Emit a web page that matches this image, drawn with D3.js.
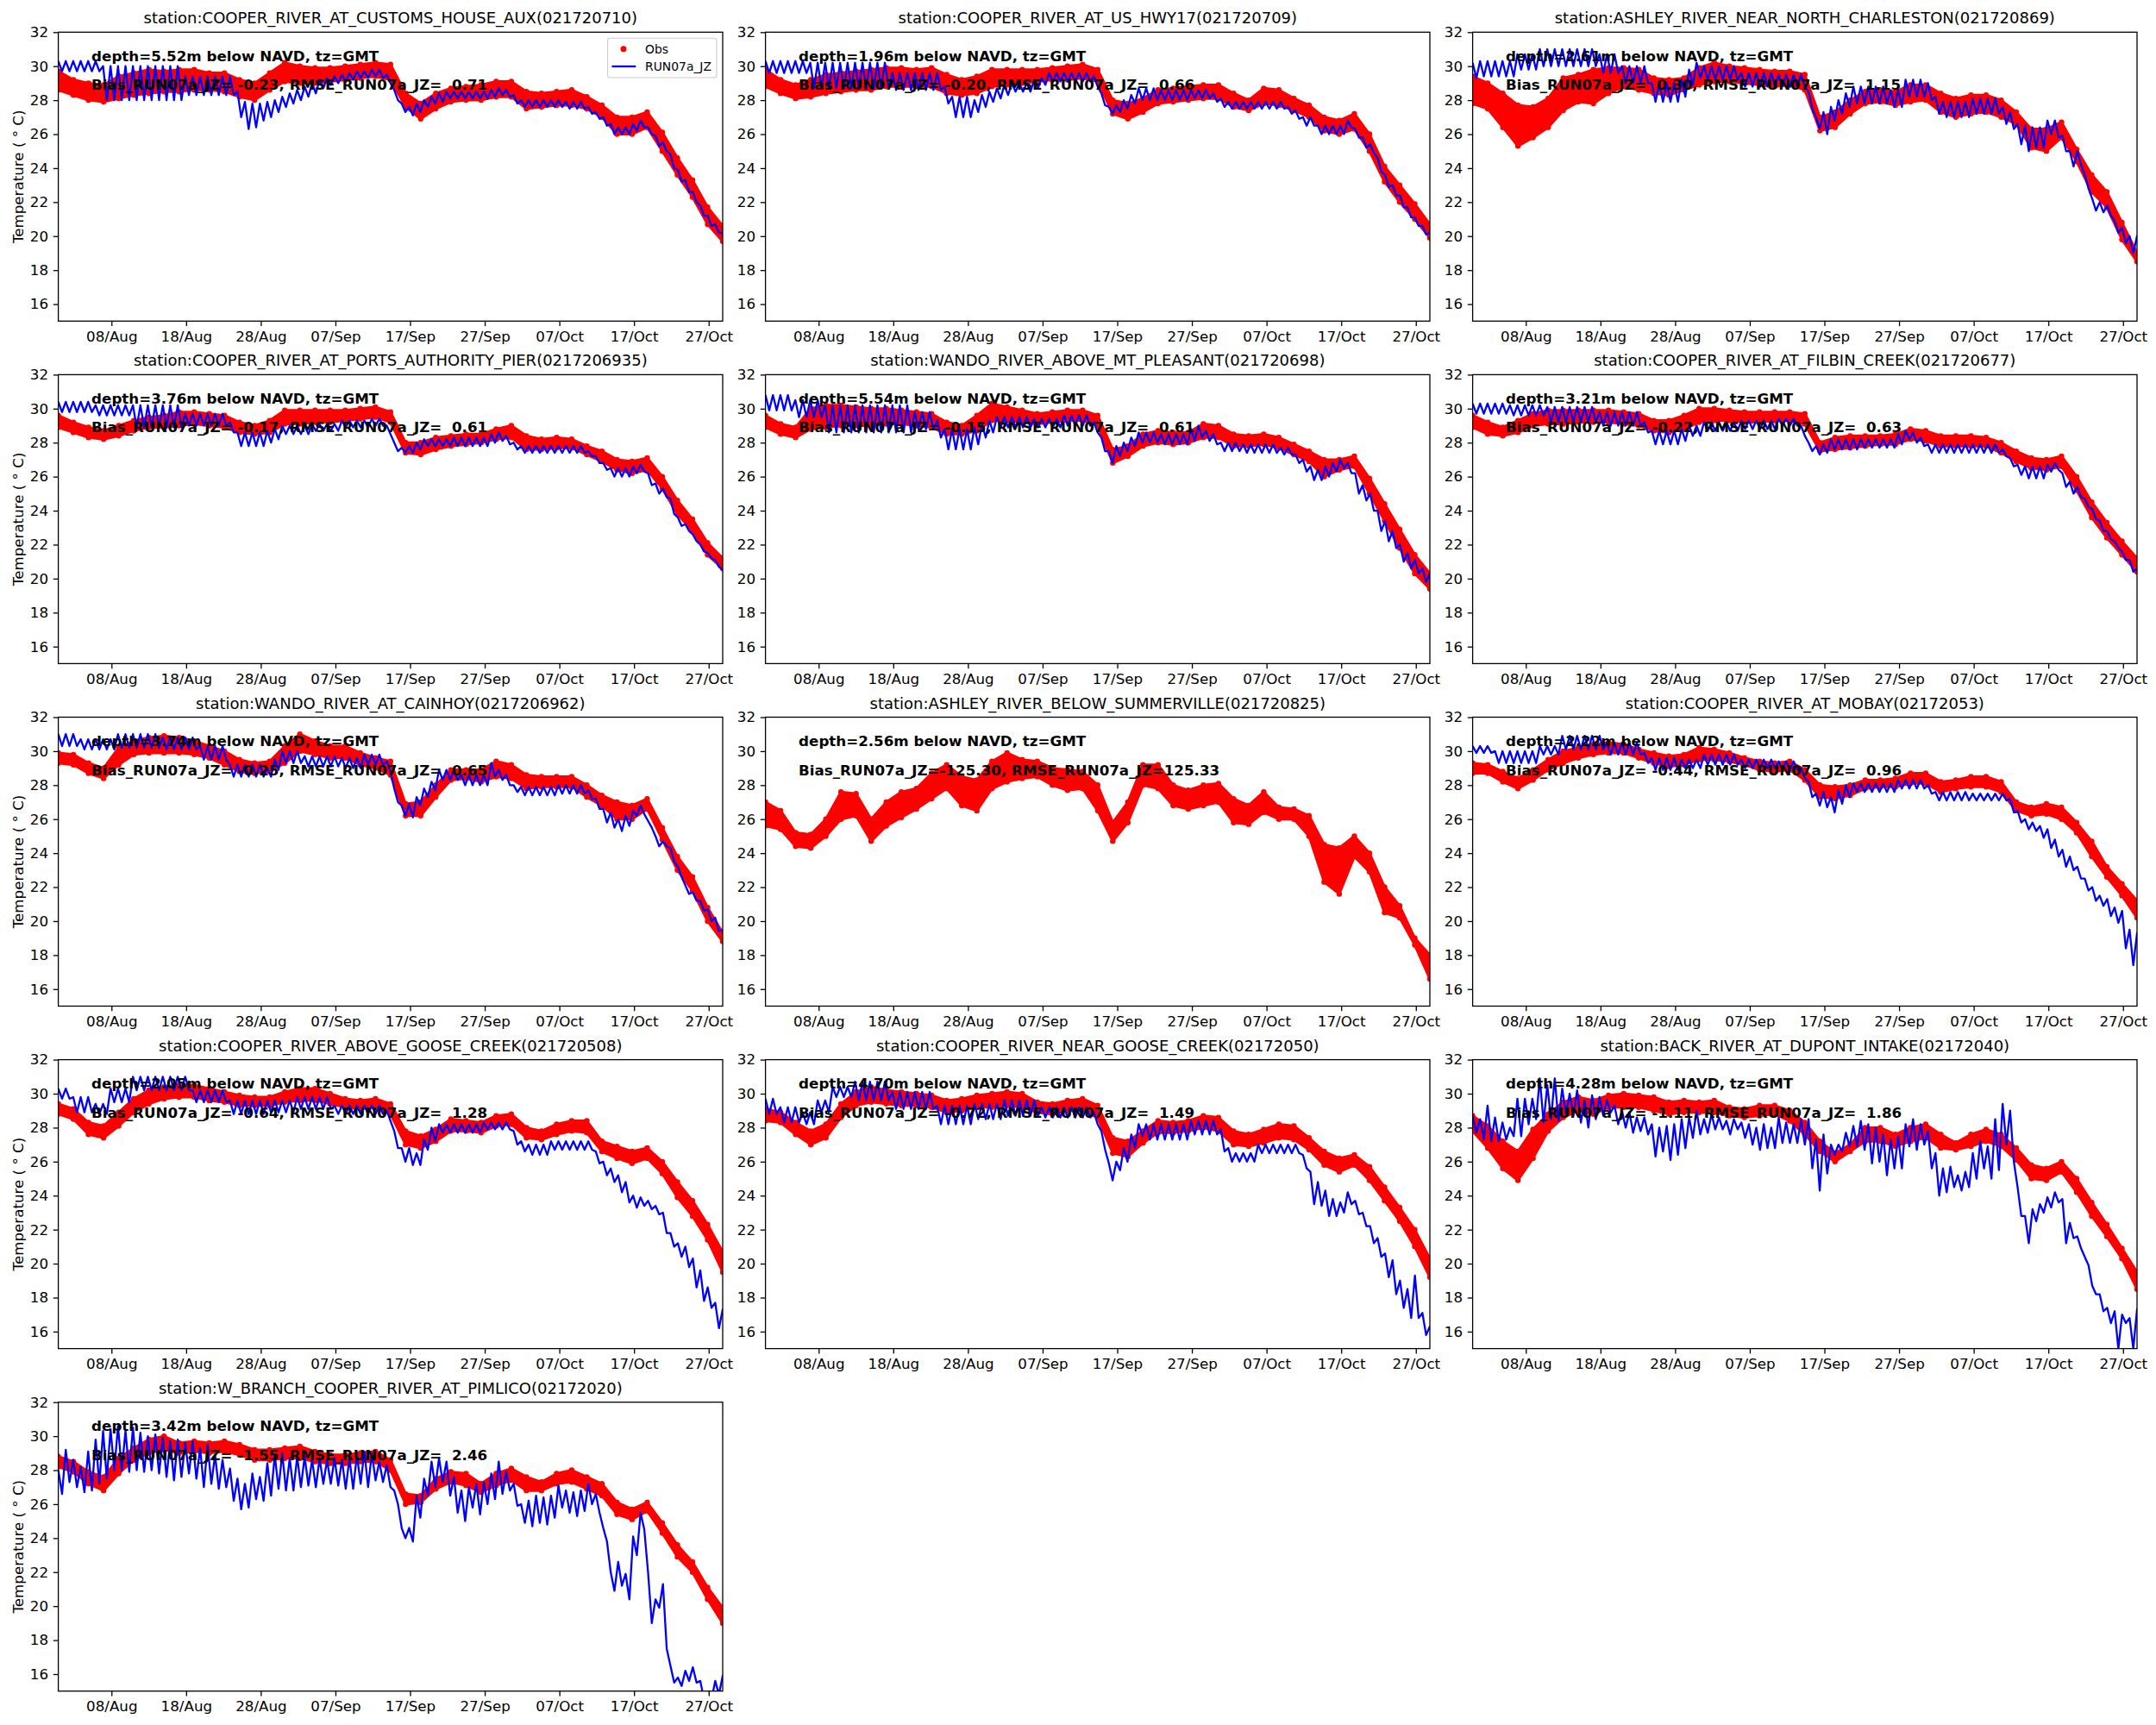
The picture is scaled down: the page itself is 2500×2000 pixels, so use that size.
<!DOCTYPE html>
<html>
<head>
<meta charset="utf-8">
<script src="https://cdn.jsdelivr.net/npm/d3@7"></script>
<style>
  body { margin: 0; background: #fff; }
  text { font-family: "DejaVu Sans", sans-serif; }
</style>
</head>
<body>
<div id="chart"></div>
<script>
// station metadata
var stationNames = [
  "COOPER_RIVER_AT_CUSTOMS_HOUSE_AUX", "COOPER_RIVER_AT_US_HWY17", "ASHLEY_RIVER_NEAR_NORTH_CHARLESTON",
  "COOPER_RIVER_AT_PORTS_AUTHORITY_PIER", "WANDO_RIVER_ABOVE_MT_PLEASANT", "COOPER_RIVER_AT_FILBIN_CREEK",
  "WANDO_RIVER_AT_CAINHOY", "ASHLEY_RIVER_BELOW_SUMMERVILLE", "COOPER_RIVER_AT_MOBAY",
  "COOPER_RIVER_ABOVE_GOOSE_CREEK", "COOPER_RIVER_NEAR_GOOSE_CREEK", "BACK_RIVER_AT_DUPONT_INTAKE",
  "W_BRANCH_COOPER_RIVER_AT_PIMLICO"
];
var stationIds = ["021720710", "021720709", "021720869", "0217206935", "021720698", "021720677",
  "0217206962", "021720825", "02172053", "021720508", "02172050", "02172040", "02172020"];
var depths = [5.52, 1.96, 2.61, 3.76, 5.54, 3.21, 3.74, 2.56, 2.22, 2.05, 4.70, 4.28, 3.42];
var biases = [-0.23, -0.20, 0.30, -0.17, -0.15, -0.22, -0.25, -125.30, -0.44, -0.64, -0.72, -1.11, -1.55];
var rmses = [0.71, 0.66, 1.15, 0.61, 0.61, 0.63, 0.65, 125.33, 0.96, 1.28, 1.49, 1.86, 2.46];

var yTicks = [16, 18, 20, 22, 24, 26, 28, 30, 32];
var xTickDates = ["2021-08-08", "2021-08-18", "2021-08-28", "2021-09-07", "2021-09-17",
  "2021-09-27", "2021-10-07", "2021-10-17", "2021-10-27"];

// observed band (upper / lower edge), every ~2 days
var s1ObsHi = [29.7,29.2,29.0,28.9,29.4,29.6,29.8,29.7,29.8,29.8,29.6,29.6,29.2,29.0,29.6,30.2,30.0,29.9,29.9,30.0,30.1,30.2,30.1,28.4,27.8,28.4,28.7,28.8,28.9,29.1,29.1,28.5,28.4,28.5,28.6,28.2,27.7,27.0,27.0,27.3,26.1,24.6,23.3,21.7,20.6];
var s1ObsLo = [28.6,28.3,28.0,27.9,28.1,28.3,28.4,28.5,28.5,28.6,28.6,28.5,28.2,28.0,28.6,29.1,29.0,29.0,29.1,29.2,29.3,29.4,29.2,27.6,26.9,27.5,27.9,28.0,28.0,28.2,28.2,27.5,27.6,27.7,27.7,27.5,27.0,26.0,26.0,26.4,25.0,23.6,22.3,20.7,19.7];
var s2ObsHi = [29.8,29.2,28.9,29.2,29.5,29.6,29.7,29.8,29.9,29.9,29.8,29.9,29.5,29.2,29.4,29.8,29.8,29.8,29.8,29.9,30.0,30.1,29.8,28.0,27.8,28.1,28.6,28.7,28.8,28.9,28.9,28.4,28.0,28.7,28.6,28.1,27.7,27.0,26.8,27.2,26.0,24.1,23.0,21.9,20.7];
var s2ObsLo = [28.8,28.4,28.1,28.2,28.4,28.5,28.6,28.6,28.8,28.8,28.8,28.8,28.4,28.3,28.4,28.8,28.9,29.0,29.1,29.2,29.2,29.3,29.1,27.2,26.9,27.3,27.8,27.9,28.0,28.1,28.1,27.6,27.4,27.8,27.7,27.4,27.0,26.2,26.0,26.3,25.0,23.2,22.0,21.0,19.9];
var s3ObsHi = [29.4,29.0,28.4,27.7,27.6,28.1,29.3,29.5,29.8,29.9,29.9,29.8,29.3,29.2,29.3,29.9,30.2,30.0,29.9,29.8,29.7,29.7,29.5,27.0,27.3,28.0,28.5,28.6,28.5,28.9,28.9,28.4,28.1,28.3,28.3,28.0,27.3,26.3,26.3,26.7,25.1,23.6,22.6,20.8,19.0];
var s3ObsLo = [27.8,27.5,26.4,25.3,25.8,26.4,27.4,27.9,27.8,28.4,28.8,28.6,28.4,28.3,28.6,28.9,29.1,29.1,29.0,28.9,28.8,28.9,28.6,26.2,26.4,27.2,27.8,27.9,27.7,27.9,28.0,27.3,27.0,27.2,27.3,27.0,26.6,25.2,25.0,25.8,24.4,22.6,21.7,19.8,18.5];
var s4ObsHi = [29.6,29.2,28.9,28.7,29.0,29.3,29.5,29.6,29.8,29.8,29.7,29.6,29.2,29.0,29.3,29.9,29.9,29.9,29.9,29.9,30.0,30.1,29.8,28.0,28.0,28.3,28.4,28.5,28.5,28.8,29.0,28.4,28.2,28.3,28.2,27.8,27.5,27.0,26.9,27.1,26.0,24.6,23.5,22.1,21.2];
var s4ObsLo = [28.9,28.6,28.3,28.2,28.4,28.7,28.9,28.9,29.0,29.1,29.0,28.9,28.6,28.5,28.6,29.1,29.1,29.2,29.2,29.3,29.4,29.5,29.2,27.4,27.3,27.6,27.8,27.9,28.0,28.2,28.3,27.6,27.6,27.7,27.7,27.3,26.9,26.4,26.2,26.4,25.3,23.8,22.8,21.4,20.6];
var s5ObsHi = [29.6,29.1,28.9,30.0,30.2,30.2,30.1,30.0,30.0,29.9,29.8,29.7,29.2,29.0,29.6,30.3,30.1,29.9,29.7,29.8,29.9,29.9,29.6,27.6,27.8,28.5,28.7,28.6,28.6,29.1,29.0,28.5,28.4,28.5,28.3,27.9,27.5,27.0,27.0,27.2,25.9,24.4,22.9,21.4,20.3];
var s5ObsLo = [28.9,28.5,28.3,28.8,28.9,29.0,29.0,29.0,29.1,29.1,29.0,28.9,28.5,28.5,28.7,29.3,29.3,29.2,29.1,29.2,29.3,29.3,29.0,26.8,27.2,27.8,28.0,27.9,28.0,28.3,28.3,27.8,27.8,27.9,27.7,27.3,26.9,26.0,26.4,26.6,25.0,23.4,21.8,20.3,19.4];
var s6ObsHi = [29.6,29.2,28.9,29.3,29.7,29.9,29.9,29.9,29.9,29.9,29.8,29.7,29.3,29.3,29.6,30.0,30.0,29.9,29.8,29.8,29.8,29.8,29.7,28.0,28.3,28.4,28.4,28.4,28.5,28.8,28.7,28.4,28.4,28.4,28.3,28.0,27.5,27.1,27.0,27.2,26.0,24.5,23.3,22.2,21.2];
var s6ObsLo = [28.9,28.5,28.4,28.6,29.0,29.1,29.1,29.2,29.2,29.2,29.1,29.0,28.7,28.6,28.8,29.2,29.3,29.3,29.2,29.2,29.3,29.3,29.1,27.5,27.6,27.7,27.8,27.9,27.9,28.2,28.1,27.8,27.8,27.8,27.8,27.4,26.9,26.5,26.4,26.6,25.2,23.6,22.4,21.4,20.4];
var s7ObsHi = [29.9,29.8,29.3,29.0,30.2,30.6,30.8,30.9,30.8,30.6,30.3,30.0,29.5,29.3,29.4,30.3,31.0,30.6,30.3,30.3,29.9,29.6,29.4,26.9,27.0,28.0,28.9,28.9,28.9,29.4,29.2,28.6,28.5,28.5,28.5,28.0,27.4,27.0,26.8,27.2,25.5,23.8,22.6,20.8,19.3];
var s7ObsLo = [29.3,29.2,28.7,28.4,29.2,29.8,29.9,29.9,29.9,29.8,29.6,29.2,28.8,28.7,28.8,29.3,30.0,29.8,29.6,29.6,29.2,29.0,28.6,26.2,26.2,27.3,28.3,28.4,28.2,28.5,28.4,27.8,27.9,27.9,27.9,27.3,26.8,26.0,26.0,26.6,24.8,23.0,21.8,20.0,18.8];
var s8ObsHi = [27.0,26.5,25.2,25.1,26.0,27.6,27.5,26.0,27.0,27.6,27.8,28.7,29.2,28.5,28.3,29.4,29.9,29.5,29.4,29.0,28.9,28.8,28.0,25.8,27.0,29.2,29.2,28.0,27.7,28.0,28.1,27.2,26.8,27.6,26.7,26.6,26.2,24.5,24.3,25.0,24.0,22.0,20.9,19.0,18.0];
var s8ObsLo = [25.6,25.4,24.4,24.3,25.0,26.0,26.2,24.7,25.6,26.1,26.6,27.2,27.8,26.8,26.5,27.8,28.2,28.4,28.5,28.0,27.7,27.8,26.5,24.7,25.8,28.0,27.8,26.8,26.6,26.8,27.0,25.8,25.7,26.4,26.0,26.0,25.0,22.3,21.6,23.8,22.9,20.5,20.2,18.6,16.6];
var s9ObsHi = [29.3,29.2,28.8,28.4,28.9,29.5,30.0,30.2,30.4,30.5,30.4,30.1,29.9,29.7,29.8,30.2,30.1,29.9,29.6,29.4,29.3,29.4,28.9,28.0,27.9,28.0,28.3,28.3,28.4,28.7,28.7,28.2,28.3,28.5,28.5,28.2,27.0,26.7,26.9,26.7,25.8,24.7,23.2,22.2,21.2];
var s9ObsLo = [28.7,28.7,28.2,27.8,28.3,28.9,29.3,29.6,29.8,29.9,29.9,29.6,29.3,29.1,29.2,29.5,29.5,29.4,29.2,28.9,28.8,28.9,28.3,27.3,27.2,27.4,27.8,27.9,27.9,28.1,28.1,27.6,27.8,27.9,27.9,27.6,26.5,26.2,26.3,26.0,25.2,23.8,22.6,21.5,20.2];
var s10ObsHi = [29.4,29.1,28.3,28.1,28.9,29.7,30.2,30.4,30.5,30.5,30.3,30.1,29.9,29.8,29.8,30.1,30.3,30.3,30.0,29.7,29.6,29.7,29.4,27.8,27.5,27.9,28.5,28.4,28.3,28.7,28.8,28.0,27.8,28.2,28.4,28.4,27.2,26.9,26.6,26.8,26.0,24.8,23.7,22.3,20.7];
var s10ObsLo = [28.8,28.5,27.6,27.4,28.1,28.9,29.4,29.7,29.8,29.8,29.6,29.5,29.3,29.3,29.3,29.5,29.6,29.6,29.4,29.2,29.1,29.2,28.8,27.0,26.8,27.2,27.8,27.8,27.7,28.1,28.2,27.4,27.3,27.6,27.8,27.7,26.6,26.2,25.9,26.2,25.3,23.9,22.8,21.4,19.5];
var s11ObsHi = [29.1,28.9,28.3,27.8,28.2,29.4,30.1,30.4,30.2,30.1,30.0,29.9,29.6,29.7,29.9,30.0,30.1,30.0,29.5,29.4,29.6,29.7,29.3,27.4,27.2,27.8,28.4,28.3,28.4,28.7,28.6,27.8,27.6,27.9,28.2,28.1,27.4,26.6,26.2,26.4,25.7,24.5,23.3,22.0,20.3];
var s11ObsLo = [28.4,28.3,27.6,27.0,27.4,28.6,29.3,29.5,29.4,29.3,29.3,29.2,28.9,29.0,29.2,29.2,29.3,29.2,28.9,28.8,29.0,29.0,28.6,26.5,26.3,27.1,27.7,27.7,27.8,28.0,27.8,27.0,26.9,27.1,27.4,27.3,26.7,25.8,25.4,25.8,24.9,23.7,22.5,21.0,19.2];
var s12ObsHi = [28.7,28.1,27.2,26.6,27.9,28.8,29.5,29.8,29.6,29.9,30.0,29.9,29.8,29.5,29.6,29.5,29.6,29.2,29.1,29.3,29.3,29.0,28.3,27.2,26.5,27.0,28.0,28.0,27.6,28.0,28.2,27.6,27.1,27.6,27.9,27.6,26.8,25.8,25.6,26.0,25.0,23.6,22.3,20.9,19.5];
var s12ObsLo = [27.8,26.8,25.6,24.9,26.2,27.8,28.6,29.0,28.8,29.2,29.2,29.2,29.0,28.8,28.9,28.9,28.9,28.7,28.6,28.7,28.8,28.4,27.6,26.6,26.0,26.6,27.2,27.2,26.9,27.2,27.4,26.8,26.7,26.9,27.2,26.9,26.1,25.0,24.9,25.4,24.2,22.8,21.6,20.3,18.5];
var s13ObsHi = [28.8,28.5,27.9,27.6,28.7,29.3,29.8,30.0,29.6,29.7,29.6,29.7,29.5,29.2,29.2,29.3,29.4,29.1,28.9,28.9,29.0,29.1,28.6,26.6,26.5,27.5,27.9,27.8,27.2,27.8,28.1,27.6,27.3,27.8,28.0,27.6,27.2,26.1,25.7,26.1,24.9,23.6,22.6,21.1,19.9];
var s13ObsLo = [28.2,27.9,27.2,26.8,27.8,28.6,29.0,29.2,29.0,29.1,29.0,29.1,28.9,28.6,28.6,28.7,28.7,28.5,28.4,28.4,28.5,28.5,28.0,26.0,26.1,26.9,27.3,27.1,26.7,27.1,27.4,26.8,26.8,27.2,27.3,26.9,26.5,25.4,25.1,25.6,24.3,22.9,22.0,20.4,19.0];

// model daily crest / trough values
var s1ModHi = [30.3,30.3,30.3,30.3,30.3,30.3,30.0,30.0,30.0,30.0,30.0,30.0,30.0,30.0,30.0,30.0,30.0,29.4,29.4,29.4,29.4,29.4,29.4,29.4,28.5,27.9,27.8,27.8,27.9,28.0,28.2,28.4,28.6,28.8,29.0,29.2,29.3,29.4,29.5,29.6,29.7,29.7,29.8,29.8,29.5,28.6,27.8,27.6,27.8,28.0,28.2,28.4,28.5,28.5,28.5,28.5,28.5,28.5,28.6,28.7,28.6,28.3,28.0,28.0,28.0,28.0,28.0,28.0,27.9,27.9,27.9,27.6,27.3,27.0,26.6,26.4,26.4,26.6,26.8,26.4,25.9,25.5,24.8,23.9,23.3,22.6,21.8,21.2,20.7,20.2];
var s1ModLo = [29.7,29.7,29.7,29.7,29.7,29.7,28.0,28.0,28.0,28.0,28.0,28.0,28.0,28.0,28.0,28.0,28.0,28.3,28.3,28.3,28.3,28.3,28.3,28.3,27.0,26.3,26.4,26.8,27.0,27.3,27.6,27.8,28.0,28.2,28.4,28.7,28.9,29.0,29.1,29.2,29.3,29.3,29.4,29.3,29.0,28.0,27.3,27.1,27.3,27.6,27.8,27.9,28.1,28.1,28.1,28.1,28.1,28.1,28.2,28.3,28.2,27.8,27.6,27.6,27.6,27.6,27.6,27.6,27.5,27.5,27.5,27.2,26.9,26.5,26.0,26.0,26.0,26.2,26.4,26.0,25.3,25.0,24.0,23.2,22.6,22.0,21.2,20.6,20.2,19.7];
var s2ModHi = [30.3,30.3,30.3,30.3,30.3,30.3,30.2,30.2,30.2,30.2,30.2,30.2,30.2,30.2,30.2,30.2,30.2,29.6,29.6,29.6,29.6,29.6,29.6,29.6,28.8,28.2,28.2,28.2,28.0,28.3,28.5,28.7,28.9,29.0,29.0,29.0,29.2,29.3,29.6,29.6,29.6,29.6,29.6,29.6,29.4,28.4,27.6,27.7,28.0,28.3,28.7,28.7,28.7,28.6,28.6,28.6,28.6,28.6,28.6,28.6,28.4,28.1,27.9,27.9,27.9,27.9,27.9,27.9,27.9,27.9,27.6,27.4,27.0,27.0,26.5,26.5,26.5,26.5,26.8,26.3,25.8,25.4,24.6,23.6,23.0,22.4,21.7,21.1,20.6,20.2];
var s2ModLo = [29.6,29.6,29.6,29.6,29.6,29.6,28.7,28.7,28.7,28.7,28.7,28.7,28.7,28.7,28.7,28.7,28.7,28.6,28.6,28.6,28.6,28.6,28.6,28.6,27.8,27.0,27.0,27.0,27.3,27.6,27.9,28.1,28.3,28.5,28.5,28.5,28.7,28.9,29.1,29.1,29.1,29.1,29.1,29.1,28.8,27.7,27.2,27.3,27.5,27.8,28.0,28.0,28.0,28.0,28.0,28.0,28.0,28.1,28.1,28.1,27.9,27.6,27.5,27.5,27.5,27.5,27.5,27.5,27.5,27.5,27.2,26.9,26.5,26.5,26.0,26.0,26.0,26.0,26.4,25.8,25.2,24.9,23.8,22.9,22.4,21.7,21.1,20.6,20.1,19.8];
var s3ModHi = [30.2,30.3,30.3,30.3,30.3,30.3,30.7,30.7,30.7,31.0,31.0,31.0,31.0,31.0,31.0,31.0,31.0,30.7,30.7,30.7,30.0,30.0,30.0,30.0,29.0,29.0,29.0,29.0,29.2,29.8,30.2,30.0,30.0,30.0,30.0,30.0,29.6,29.6,29.6,29.6,29.6,29.5,29.5,29.5,29.5,28.5,27.0,27.3,27.6,28.0,28.4,28.8,28.8,28.8,28.8,28.8,28.6,28.6,29.2,29.2,29.2,29.0,28.2,27.9,27.9,27.9,27.9,28.1,28.1,28.1,28.1,27.6,27.3,26.6,26.5,26.4,26.4,26.8,26.8,25.9,25.0,25.0,23.6,22.2,22.0,21.8,20.9,20.5,20.0,20.0];
var s3ModLo = [29.3,29.4,29.4,29.4,29.4,29.4,29.8,29.8,29.8,30.0,30.0,30.0,30.0,30.0,30.0,30.0,30.0,29.6,29.6,29.6,29.0,29.0,29.0,29.0,27.9,27.9,27.9,27.9,28.2,28.9,29.3,29.2,29.2,29.2,29.2,29.2,28.8,28.8,28.8,28.8,28.8,28.8,28.8,28.8,28.8,27.5,26.3,26.0,26.8,27.2,27.6,27.8,27.8,27.8,27.8,27.8,27.6,27.6,28.2,28.2,28.2,28.0,27.2,27.0,27.0,27.0,27.0,27.2,27.2,27.2,27.2,26.6,26.3,25.4,25.0,25.2,25.2,26.0,25.8,25.0,24.1,24.2,22.8,21.5,21.4,21.2,20.2,19.6,19.0,19.4];
var s4ModHi = [30.4,30.4,30.4,30.4,30.4,30.2,30.2,30.2,30.2,30.2,30.2,30.2,30.2,30.2,30.2,30.2,30.2,29.7,29.7,29.7,29.7,29.7,29.7,29.2,28.6,28.6,28.6,28.6,28.7,28.8,29.0,29.0,29.0,29.0,29.1,29.1,29.1,29.1,29.3,29.3,29.3,29.3,29.4,29.4,29.0,28.0,27.7,27.8,28.0,28.2,28.2,28.2,28.2,28.3,28.3,28.3,28.3,28.3,28.5,28.6,28.4,28.0,27.8,27.8,27.8,27.8,27.8,27.8,27.8,27.8,27.8,27.5,27.2,26.8,26.5,26.5,26.5,26.6,26.7,26.2,25.6,25.3,24.7,23.6,23.2,22.6,22.0,21.5,21.1,20.5];
var s4ModLo = [29.8,29.8,29.8,29.8,29.8,29.6,29.6,29.6,29.6,29.6,28.9,28.9,28.9,28.9,28.9,28.9,28.9,29.0,29.0,29.0,29.0,29.0,29.0,28.6,27.8,27.8,27.8,27.8,28.0,28.2,28.5,28.5,28.5,28.5,28.7,28.7,28.7,28.7,28.9,28.9,28.9,28.9,29.0,29.0,28.5,27.5,27.4,27.4,27.6,27.8,27.8,27.8,27.8,27.8,27.8,27.8,27.8,27.8,28.0,28.1,27.9,27.6,27.4,27.4,27.4,27.4,27.4,27.4,27.4,27.4,27.4,27.2,26.8,26.4,26.0,26.0,26.0,26.2,26.3,25.5,25.0,24.8,23.8,23.1,22.8,22.2,21.6,21.2,20.7,20.1];
var s5ModHi = [30.8,30.8,30.8,30.8,30.5,30.5,30.5,30.5,30.2,30.2,30.2,30.2,30.2,30.2,30.2,30.2,30.2,30.2,30.2,30.2,29.8,29.8,29.8,29.3,28.8,28.8,28.8,28.8,28.9,29.1,29.3,29.5,29.5,29.5,29.5,29.5,29.4,29.4,29.4,29.4,29.6,29.6,29.6,29.6,29.2,28.3,27.5,27.8,28.0,28.3,28.6,28.6,28.6,28.5,28.5,28.5,28.5,28.8,29.0,28.7,28.5,28.0,28.0,28.0,27.9,27.9,27.9,27.9,27.9,27.7,27.7,27.3,27.0,26.6,26.4,26.6,26.8,27.0,26.8,26.2,25.5,25.0,24.0,23.4,22.8,22.0,21.5,21.1,20.6,20.3];
var s5ModLo = [29.9,29.9,29.9,29.9,29.5,29.5,29.5,29.5,28.6,28.6,28.6,28.6,28.6,28.6,28.6,28.6,28.6,28.6,28.6,28.6,28.8,28.8,28.8,28.3,27.6,27.6,27.6,27.6,27.9,28.3,28.6,28.9,28.9,28.9,28.9,28.9,28.9,28.9,28.9,28.9,29.0,29.0,29.0,29.0,28.6,27.5,26.8,27.2,27.5,27.8,28.0,28.0,28.0,27.9,27.9,27.9,27.9,28.1,28.3,28.1,27.9,27.5,27.5,27.5,27.4,27.4,27.4,27.4,27.4,27.3,27.3,26.8,26.3,25.8,25.8,26.0,26.3,26.5,26.2,25.0,24.6,24.0,22.8,22.2,21.8,21.0,20.6,20.3,19.8,19.6];
var s6ModHi = [30.3,30.3,30.3,30.3,30.3,30.2,30.2,30.2,30.2,30.2,30.1,30.1,30.1,30.1,30.1,30.1,30.1,29.8,29.8,29.8,29.8,29.8,29.8,29.2,28.7,28.7,28.7,28.7,28.8,29.0,29.0,29.2,29.2,29.2,29.2,29.2,29.3,29.3,29.3,29.3,29.3,29.4,29.4,29.4,29.0,28.0,27.8,27.9,28.2,28.2,28.2,28.2,28.2,28.2,28.2,28.2,28.2,28.5,28.7,28.6,28.3,27.9,27.9,27.9,27.9,27.9,27.9,27.9,27.9,27.9,27.9,27.6,27.1,26.7,26.6,26.6,26.6,26.7,26.8,26.2,25.7,25.4,24.7,24.1,23.4,22.8,22.2,21.6,21.1,20.6];
var s6ModLo = [29.7,29.7,29.7,29.7,29.7,29.6,29.6,29.6,29.6,29.6,29.2,29.2,29.2,29.2,29.2,29.2,29.2,29.0,29.0,29.0,29.0,29.0,29.0,28.6,27.9,27.9,27.9,27.9,28.1,28.4,28.4,28.7,28.7,28.7,28.7,28.7,28.8,28.8,28.8,28.8,28.8,29.0,29.0,29.0,28.4,27.5,27.3,27.4,27.6,27.6,27.6,27.6,27.7,27.7,27.7,27.7,27.7,27.9,28.2,28.0,27.8,27.4,27.4,27.4,27.4,27.4,27.4,27.4,27.4,27.4,27.4,27.2,26.6,26.1,25.9,25.9,25.9,26.3,26.4,25.4,25.0,24.8,24.2,23.5,22.8,22.3,21.8,21.1,20.4,20.0];
var s7ModHi = [31.0,31.0,31.0,30.7,30.7,30.7,30.7,30.7,31.0,31.0,31.0,31.0,31.0,31.0,30.8,30.8,30.8,30.8,30.8,30.3,30.3,30.3,30.3,29.2,29.2,29.2,29.2,29.2,29.0,29.5,30.0,30.0,30.0,29.7,29.7,29.7,29.7,29.7,29.6,29.6,29.6,29.8,29.8,29.8,29.4,27.8,26.8,26.9,27.3,27.8,28.2,28.9,28.9,28.9,28.6,28.6,28.6,28.6,29.3,28.9,28.6,28.0,27.9,27.9,27.9,27.9,27.9,28.0,28.0,28.0,28.0,27.7,27.2,26.6,26.4,26.0,26.2,26.5,26.8,25.9,25.0,24.7,24.3,23.2,22.1,21.7,21.2,20.7,20.2,19.5];
var s7ModLo = [30.3,30.3,30.3,30.1,30.1,30.1,30.1,30.1,30.2,30.2,30.2,30.2,30.2,30.2,30.1,30.1,30.1,30.1,30.1,29.5,29.5,29.5,29.5,28.5,28.5,28.5,28.5,28.5,28.5,28.9,29.3,29.3,29.3,29.1,29.1,29.1,29.1,29.1,29.0,29.0,29.0,29.2,29.2,29.2,28.8,27.0,26.2,26.1,26.8,27.3,27.7,28.3,28.3,28.3,28.0,28.0,28.0,28.0,28.5,28.3,28.0,27.6,27.4,27.4,27.4,27.4,27.4,27.5,27.5,27.5,27.5,27.2,26.6,25.8,25.5,25.3,25.6,26.2,26.3,25.5,24.4,24.4,23.5,22.6,21.6,21.2,20.6,20.0,19.4,19.0];
var s9ModHi = [30.3,30.3,30.3,30.0,30.0,30.0,30.0,30.0,30.0,30.3,30.3,30.3,30.9,30.9,30.9,30.9,30.9,30.9,30.5,30.5,30.5,30.5,30.5,29.9,29.6,29.6,29.6,29.6,29.5,29.5,29.5,29.8,29.8,29.8,29.8,29.8,29.5,29.5,29.5,29.5,29.5,29.4,29.4,29.4,29.0,28.2,27.5,27.6,27.3,27.7,28.0,28.1,28.1,28.1,28.1,28.1,28.1,28.3,28.3,28.3,28.3,28.0,27.6,27.6,27.6,27.6,27.6,27.5,27.5,27.5,27.5,27.5,27.2,26.5,26.0,25.8,25.6,25.4,24.8,24.2,23.8,23.2,22.5,22.0,21.5,21.3,20.8,20.6,19.5,19.3];
var s9ModLo = [29.9,29.9,29.9,29.3,29.3,29.3,29.3,29.3,29.3,29.8,29.8,29.8,30.1,30.1,30.1,30.1,30.1,30.1,29.8,29.8,29.8,29.8,29.8,29.3,28.9,28.9,28.9,28.9,29.0,29.0,29.0,29.2,29.2,29.2,29.2,29.2,29.0,29.0,29.0,29.0,29.0,28.9,28.9,28.9,28.4,27.3,26.8,26.7,26.4,26.9,27.3,27.6,27.6,27.6,27.6,27.6,27.6,27.8,27.8,27.8,27.8,27.5,27.1,27.1,27.1,27.1,27.1,27.1,27.1,27.1,27.1,27.1,26.4,25.8,25.4,25.3,24.9,24.3,23.8,23.2,23.0,22.5,21.8,21.2,20.9,20.3,19.9,18.4,17.4,18.0];
var s10ModHi = [30.3,30.3,29.8,29.8,29.8,29.4,29.4,30.3,30.3,30.3,31.0,31.0,31.0,31.0,31.0,31.0,31.0,31.0,30.2,30.2,30.2,30.2,30.2,29.6,29.6,29.6,29.6,29.6,29.6,29.6,29.6,29.6,29.8,29.8,29.8,29.8,29.8,29.3,29.3,29.3,29.3,29.3,29.3,29.3,29.0,27.8,26.8,26.8,26.5,27.3,28.0,28.2,28.2,28.2,28.2,28.2,28.2,28.3,28.3,28.3,28.3,27.8,27.2,27.0,27.0,27.0,27.2,27.2,27.2,27.2,27.2,27.2,26.6,26.0,25.6,25.2,24.8,24.0,23.9,23.7,23.4,23.0,21.8,21.2,21.0,20.3,19.6,18.6,17.7,17.3];
var s10ModLo = [29.7,29.7,28.9,28.9,28.9,28.8,28.8,29.5,29.5,29.5,30.2,30.2,30.2,30.2,30.2,30.2,30.2,30.2,29.5,29.5,29.5,29.5,29.5,28.8,28.8,28.8,28.8,28.8,28.9,28.9,28.9,28.9,29.1,29.1,29.1,29.1,29.1,28.8,28.8,28.8,28.8,28.8,28.8,28.8,28.4,26.8,26.0,25.8,25.8,26.7,27.2,27.7,27.7,27.7,27.7,27.7,27.7,27.9,27.9,27.9,27.9,27.0,26.6,26.4,26.4,26.4,26.7,26.7,26.7,26.7,26.7,26.7,25.9,25.2,24.8,24.2,23.6,23.3,23.4,23.2,22.9,21.8,21.0,20.4,19.8,18.6,17.8,17.4,16.2,16.0];
var s11ModHi = [29.7,29.7,29.2,29.2,29.2,28.9,28.9,29.6,29.6,30.4,30.4,30.4,30.7,30.7,30.7,30.7,30.7,30.1,30.1,30.1,30.1,30.1,30.1,29.3,29.3,29.3,29.3,29.3,29.4,29.4,29.4,29.4,29.6,29.6,29.6,29.6,29.6,29.2,29.2,29.2,29.2,29.2,29.2,29.2,28.9,27.8,25.9,26.0,26.8,27.6,28.2,28.2,28.2,28.2,28.2,28.2,28.2,28.4,28.4,28.4,28.4,27.9,26.8,26.5,26.5,26.5,27.0,27.0,27.0,27.0,27.0,27.0,26.4,25.4,24.8,24.3,23.8,23.6,24.2,23.7,23.0,22.2,21.5,20.6,20.2,19.0,18.5,19.3,17.1,16.3];
var s11ModLo = [28.8,28.8,28.3,28.3,28.3,28.2,28.2,28.9,28.9,29.8,29.8,29.8,29.6,29.6,29.6,29.6,29.6,29.1,29.1,29.1,29.1,29.1,29.1,28.2,28.2,28.2,28.2,28.2,28.5,28.5,28.5,28.5,28.7,28.7,28.7,28.7,28.7,28.6,28.6,28.6,28.6,28.6,28.6,28.6,28.2,26.7,24.9,25.5,26.0,26.8,27.5,27.3,27.3,27.3,27.3,27.3,27.3,27.6,27.6,27.6,27.6,26.6,26.0,26.0,26.0,26.0,26.5,26.5,26.5,26.5,26.5,26.5,25.6,23.5,23.4,22.8,22.8,23.0,23.5,22.9,22.2,21.2,20.4,19.2,18.2,17.4,16.8,16.8,15.8,15.5];
var s12ModHi = [28.7,28.5,29.3,28.6,28.3,28.0,29.7,29.7,29.7,30.9,30.5,30.9,30.3,30.0,30.2,29.6,29.9,29.8,29.6,29.3,29.0,28.9,28.6,28.6,28.2,28.0,28.1,28.2,28.5,28.6,29.0,28.5,28.8,28.6,28.4,28.5,28.3,28.2,28.0,28.2,28.0,28.6,28.3,28.2,28.5,28.5,27.3,27.6,27.0,27.0,27.7,28.1,28.4,28.2,28.0,27.6,27.3,27.5,28.2,28.5,28.2,27.8,26.5,25.6,25.7,25.2,25.4,26.5,27.2,26.9,28.5,29.4,29.0,24.5,22.8,23.2,23.5,23.9,24.2,23.8,22.4,21.6,20.4,18.7,18.2,17.4,17.2,17.0,16.8,17.3];
var s12ModLo = [27.7,27.3,27.2,27.2,27.3,27.5,27.5,28.2,28.5,28.3,28.5,28.4,28.8,28.7,28.3,28.0,28.5,28.7,28.9,28.2,28.0,27.7,27.8,27.6,26.3,26.6,26.1,26.4,26.8,27.4,27.6,27.7,27.9,27.9,27.6,27.9,27.4,27.0,26.7,26.8,26.8,27.1,27.1,27.1,27.0,25.6,24.3,25.3,26.4,26.6,26.9,26.9,26.7,25.9,26.0,25.2,25.6,25.6,26.9,26.7,27.0,25.6,24.0,24.2,24.5,24.3,24.5,25.0,25.6,25.0,25.5,27.0,26.0,22.8,21.2,22.5,23.0,23.3,23.6,21.2,21.5,20.9,19.9,18.2,17.2,16.5,15.0,16.5,15.0,15.5];
var s13ModHi = [28.0,29.2,28.6,28.2,29.1,29.8,30.3,30.4,30.6,30.3,30.5,30.2,30.0,30.1,29.9,29.7,29.8,29.6,29.7,29.3,29.5,28.9,28.6,28.1,27.5,27.2,27.8,27.6,28.4,28.9,29.0,28.7,28.8,28.8,28.6,28.7,28.6,28.7,28.6,28.7,28.9,29.1,29.0,28.5,28.3,26.8,24.6,24.6,26.5,27.5,28.5,28.7,28.5,27.6,26.8,27.0,27.2,27.3,27.8,28.5,27.9,27.2,26.0,26.2,26.5,26.4,26.5,27.1,26.8,26.7,26.8,27.2,26.6,24.6,22.0,22.6,21.9,24.1,25.5,22.0,20.4,21.3,16.5,15.8,16.2,16.4,15.6,14.8,15.6,15.9];
var s13ModLo = [26.6,27.3,27.0,26.7,26.8,27.2,27.5,28.0,28.0,27.9,28.0,27.9,28.0,27.8,27.6,27.4,27.6,27.8,27.5,27.0,27.2,26.9,27.0,26.2,25.7,25.8,26.3,26.2,26.5,26.9,26.8,26.8,27.0,27.1,27.0,27.2,27.2,27.1,26.9,26.9,27.2,27.0,27.4,27.3,27.0,26.0,24.0,23.8,25.2,26.5,27.0,27.3,26.5,25.5,25.0,25.8,25.4,26.0,26.3,26.6,26.8,25.9,24.9,24.7,24.9,24.8,25.2,25.8,25.5,25.3,25.6,26.0,25.5,23.8,20.9,21.2,20.4,23.0,24.5,19.0,19.9,17.5,15.5,15.3,15.6,15.5,14.5,14.5,14.8,14.8];

var obsHiList = [s1ObsHi, s2ObsHi, s3ObsHi, s4ObsHi, s5ObsHi, s6ObsHi, s7ObsHi, s8ObsHi, s9ObsHi, s10ObsHi, s11ObsHi, s12ObsHi, s13ObsHi];
var obsLoList = [s1ObsLo, s2ObsLo, s3ObsLo, s4ObsLo, s5ObsLo, s6ObsLo, s7ObsLo, s8ObsLo, s9ObsLo, s10ObsLo, s11ObsLo, s12ObsLo, s13ObsLo];
var modHiList = [s1ModHi, s2ModHi, s3ModHi, s4ModHi, s5ModHi, s6ModHi, s7ModHi, null, s9ModHi, s10ModHi, s11ModHi, s12ModHi, s13ModHi];
var modLoList = [s1ModLo, s2ModLo, s3ModLo, s4ModLo, s5ModLo, s6ModLo, s7ModLo, null, s9ModLo, s10ModLo, s11ModLo, s12ModLo, s13ModLo];

var margin = { top: 37.3, left: 67.6 },
  width = 770.4,
  height = 335,
  colStep = 820,
  rowStep = 397.1;

var start = new Date(Date.UTC(2021, 6, 31, 21));
var end = new Date(Date.UTC(2021, 9, 28, 21));
var parseDay = d3.utcParse("%Y-%m-%d");
var fmtDay = d3.utcFormat("%d/%b");

var x = d3.scaleUtc().domain([start, end]).range([0, width]);
var y = d3.scaleLinear().domain([15, 32]).range([height, 0]);

var svg = d3.select("#chart").append("svg").attr("width", 2500).attr("height", 2000);
svg.append("rect").attr("width", 2500).attr("height", 2000).attr("fill", "#fff");

function timeAt(i, n) {
  return new Date(start.getTime() + ((end - start) * i) / (n - 1));
}

function fmt6(v) {
  var s = v.toFixed(2);
  while (s.length < 6) s = " " + s;
  return s;
}

function drawPanel(i) {
  var col = i % 3, row = Math.floor(i / 3);
  var left = margin.left + col * colStep, top = margin.top + row * rowStep;
  var g = svg.append("g").attr("transform", "translate(" + left + "," + top + ")");

  g.append("clipPath").attr("id", "clip" + i)
    .append("rect").attr("width", width).attr("height", height);
  var plot = g.append("g").attr("clip-path", "url(#clip" + i + ")");

  // observations: red band
  var hi = obsHiList[i], lo = obsLoList[i];
  var obs = hi.map(function (v, k) {
    return { t: timeAt(k, hi.length), hi: v, lo: lo[k] };
  });
  var band = d3.area()
    .x(function (d) { return x(d.t); })
    .y0(function (d) { return y(d.lo); })
    .y1(function (d) { return y(d.hi); });
  plot.append("path").datum(obs)
    .attr("d", band)
    .style("fill", "#ff0000")
    .style("stroke", "#ff0000")
    .style("stroke-width", 3)
    .style("stroke-linejoin", "round");
  var dots = [];
  obs.forEach(function (d) { dots.push([d.t, d.hi]); dots.push([d.t, d.lo]); });
  plot.selectAll(".odot").data(dots).enter().append("circle")
    .attr("class", "odot")
    .attr("cx", function (d) { return x(d[0]); })
    .attr("cy", function (d) { return y(d[1]); })
    .attr("r", 3.2)
    .style("fill", "#ff0000");

  // model: alternating crest / trough
  if (modHiList[i]) {
    var mh = modHiList[i], ml = modLoList[i];
    var halfStep = (end - start) / (mh.length - 1) / 2;
    var pts = [];
    mh.forEach(function (v, k) {
      var t = timeAt(k, mh.length);
      pts.push([t, v]);
      pts.push([new Date(t.getTime() + halfStep), ml[k]]);
    });
    var line = d3.line()
      .x(function (d) { return x(d[0]); })
      .y(function (d) { return y(d[1]); });
    plot.append("path").datum(pts)
      .attr("d", line)
      .style("fill", "none")
      .style("stroke", "#0000ff")
      .style("stroke-width", 2.3)
      .style("stroke-linejoin", "round");
  }

  // axes
  var yAxis = g.append("g")
    .call(d3.axisLeft(y).tickValues(yTicks).tickSize(5.8).tickPadding(5.8));
  var xAxis = g.append("g")
    .attr("transform", "translate(0," + height + ")")
    .call(d3.axisBottom(x).tickValues(xTickDates.map(parseDay)).tickFormat(fmtDay).tickSize(5.8).tickPadding(5.8));
  [yAxis, xAxis].forEach(function (a) {
    a.select(".domain").remove();
    a.attr("font-family", "DejaVu Sans").attr("font-size", 16.7);
    a.selectAll("line").attr("stroke", "#000").attr("stroke-width", 1.3);
    a.selectAll("text").attr("fill", "#000");
  });

  g.append("rect")
    .attr("width", width).attr("height", height)
    .style("fill", "none").style("stroke", "#000").style("stroke-width", 1.3);

  // title and annotations
  g.append("text")
    .attr("x", width / 2).attr("y", -10)
    .attr("text-anchor", "middle")
    .style("font-size", "18px")
    .text("station:" + stationNames[i] + "(" + stationIds[i] + ")");
  g.append("text")
    .attr("x", width * 0.05).attr("y", height * 0.1)
    .style("font-size", "16.7px").style("font-weight", "bold")
    .attr("xml:space", "preserve").style("white-space", "pre")
    .text("depth=" + depths[i].toFixed(2) + "m below NAVD, tz=GMT");
  g.append("text")
    .attr("x", width * 0.05).attr("y", height * 0.2)
    .style("font-size", "16.7px").style("font-weight", "bold")
    .attr("xml:space", "preserve").style("white-space", "pre")
    .text("Bias_RUN07a_JZ=" + fmt6(biases[i]) + ", RMSE_RUN07a_JZ=" + fmt6(rmses[i]));

  if (col == 0) {
    svg.append("text")
      .attr("transform", "translate(21," + (top + height / 2) + ") rotate(-90)")
      .attr("text-anchor", "middle")
      .attr("dy", "0.35em")
      .style("font-size", "16.7px")
      .text("Temperature ( \u00b0 C)");
  }

  if (i == 0) {
    var lg = g.append("g").attr("transform", "translate(637,7)");
    lg.append("rect")
      .attr("width", 126.4).attr("height", 45.7).attr("rx", 3)
      .style("fill", "#fff").style("fill-opacity", 0.8)
      .style("stroke", "#cccccc").style("stroke-width", 1.1);
    lg.append("circle").attr("cx", 18.4).attr("cy", 12.4).attr("r", 3.5).style("fill", "#ff0000");
    lg.append("text").attr("x", 43.4).attr("y", 12.4).attr("dy", "0.35em")
      .style("font-size", "13.9px").text("Obs");
    lg.append("line").attr("x1", 4.9).attr("x2", 32.7).attr("y1", 32.7).attr("y2", 32.7)
      .style("stroke", "#0000ff").style("stroke-width", 2.3);
    lg.append("text").attr("x", 43.4).attr("y", 32.7).attr("dy", "0.35em")
      .style("font-size", "13.9px").text("RUN07a_JZ");
  }
}

for (var i = 0; i < stationNames.length; i++) drawPanel(i);
</script>
</body>
</html>
